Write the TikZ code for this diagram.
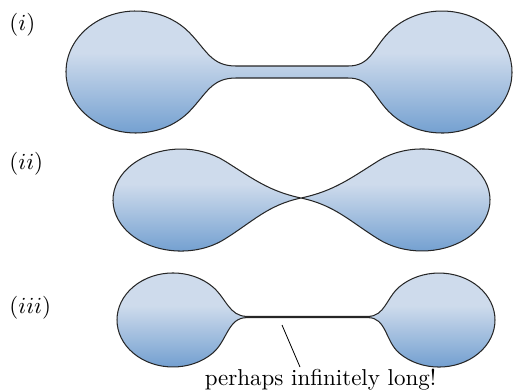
\documentclass[tikz,border=0pt]{standalone}
\usepackage{tikz}
\usetikzlibrary{positioning, calc}

\definecolor{lobeLight}{RGB}{206,219,236}
\definecolor{lobeDark}{RGB}{108,155,206}
\pgfdeclareverticalshading{lobe}{100bp}{color(0bp)=(lobeDark); color(25bp)=(lobeDark); color(57bp)=(lobeLight); color(75bp)=(lobeLight); color(100bp)=(lobeLight)}

\tikzset{
    dumbbell/.style={draw=black!85, line width=0.45pt, shading=lobe},
    caselbl/.style={anchor=west, inner sep=0pt},
}

\begin{document}
\begin{tikzpicture}[x=0.435pt, y=0.435pt]
    \useasboundingbox (0,0) rectangle (513,390);

    % --- (i): two lobes joined by a thin tube ---
    \node[caselbl] (lbli) at (9,365) {$(i)$};
    \path[dumbbell] (236,324) -- (348,324)
        to[out=0, in=226, looseness=1.1] (388.4,357.2)
        arc[start angle=140, end angle=-140, x radius=70, y radius=61]
        to[out=134, in=0, looseness=1.1] (348,312) -- (236,312)
        to[out=180, in=46, looseness=1.1] (189.6,278.8)
        arc[start angle=-40, end angle=-320, x radius=70, y radius=61]
        to[out=-46, in=180, looseness=1.1] cycle;

    % --- (ii): lobes pinched to a single point ---
    \node[caselbl] (lblii) at (9,226) {$(ii)$};
    \coordinate (pinch) at (301,192);
    \path[dumbbell] (pinch)
        to[out=12, in=212] (378.3,229.1)
        arc[start angle=130, end angle=-130, x radius=68, y radius=51]
        to[out=148, in=-12] (pinch)
        to[out=192, in=32] (224.7,150.9)
        arc[start angle=-50, end angle=-310, x radius=68, y radius=51]
        to[out=-32, in=168] cycle;

    % --- (iii): lobes joined by a line ---
    \node[caselbl] (lbliii) at (9,82) {$(iii)$};
    \path[dumbbell] (247,73.6) -- (368,73.6)
        to[out=0, in=220] (399.4,103.2)
        arc[start angle=135, end angle=-135, x radius=56, y radius=47]
        to[out=140, in=0] (368,72.4) -- (247,72.4)
        to[out=180, in=40] (212.6,36.8)
        arc[start angle=-45, end angle=-315, x radius=56, y radius=47]
        to[out=-40, in=180] cycle;

    % pointer to the line
    \node[anchor=base, inner sep=0pt] (longlbl) at (320.5,5) {perhaps infinitely long!};
    \coordinate (neck) at (282,65);
    \coordinate (tip) at (300,23);
    \draw[line width=0.35pt] (neck) -- (tip);
\end{tikzpicture}
\end{document}
